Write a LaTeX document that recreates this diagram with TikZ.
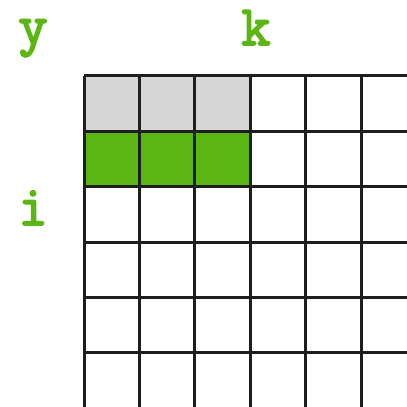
\documentclass[tikz,border=0pt]{standalone}
\usepackage{fontspec}
\newfontfamily\idxfont{Latin Modern Mono}[FakeBold=3]
\definecolor{idxgreen}{HTML}{5BB512}
\definecolor{cellgray}{HTML}{D6D6D6}
\definecolor{gridline}{HTML}{1E1E1E}
\tikzset{
  idx/.style={text=idxgreen, font=\idxfont\fontsize{57}{57}\selectfont, anchor=base, inner sep=0pt},
  cell/.style={draw=gridline, line width=3pt}
}
\begin{document}
\begin{tikzpicture}[x=1pt,y=1pt]
        \useasboundingbox (0,0) rectangle (407,407);
        \clip (0,0) rectangle (407,407);
        % filled cells
        \foreach \c in {0,1,2} {
          \fill[cellgray] (84+55.4*\c,331) rectangle ++(55.4,-55.4);
          \fill[idxgreen] (84+55.4*\c,275.6) rectangle ++(55.4,-55.4);
        }
        % grid
        \foreach \c in {0,...,6}
          \draw[cell] (84+55.4*\c,331) -- (84+55.4*\c,-5);
        \foreach \r in {0,...,6}
          \draw[cell] (84,331-55.4*\r) -- (420,331-55.4*\r);
        % labels
        \node[idx] (ylab) at (33,363) {y};
        \node[idx] (klab) at (256,362) {k};
        \node[idx] (ilab) at (33,182) {i};
    \end{tikzpicture}
\end{document}
